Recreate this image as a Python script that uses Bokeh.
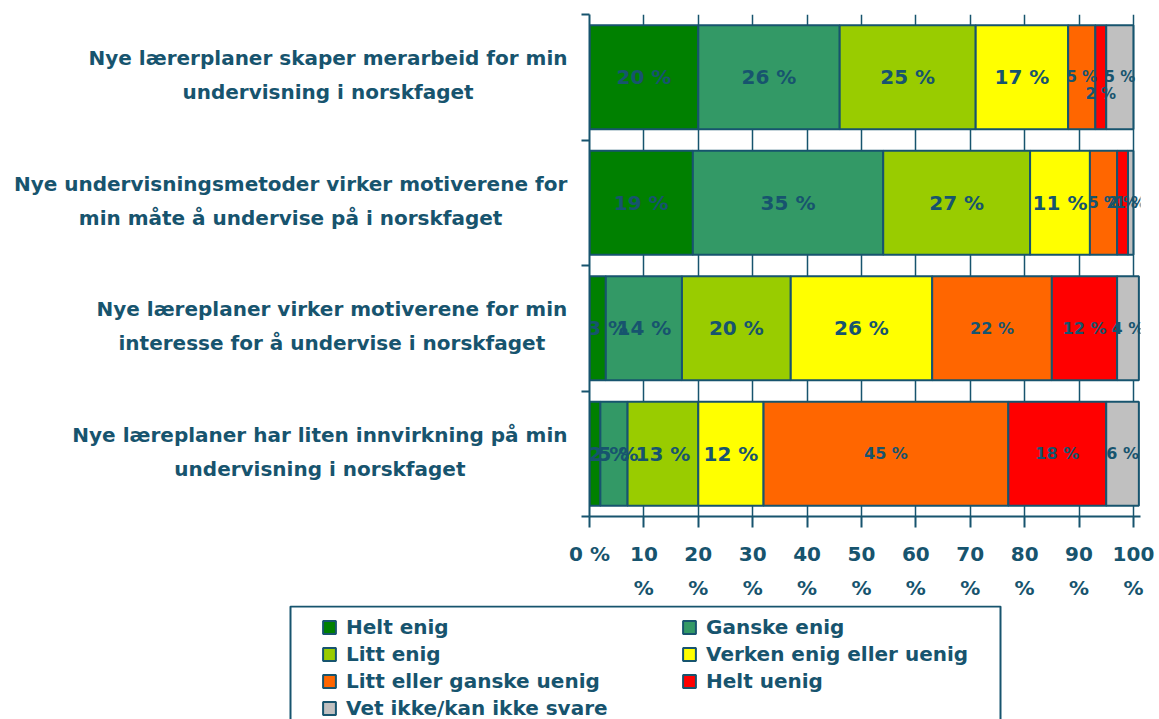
from bokeh.plotting import figure
from bokeh.layouts import column, row
from bokeh.models import (Range1d, FixedTicker, Legend, LegendItem, ColumnDataSource,
                          BoxAnnotation)
from bokeh.core.properties import value
from bokeh.embed import file_html
from bokeh.resources import INLINE

# ---------------- data ----------------
questions = [
    "Nye lærerplaner skaper merarbeid for min\nundervisning i norskfaget",
    "Nye undervisningsmetoder virker motiverene for\nmin måte å undervise på i norskfaget",
    "Nye læreplaner virker motiverene for min\ninteresse for å undervise i norskfaget",
    "Nye læreplaner har liten innvirkning på min\nundervisning i norskfaget",
]
categories = ["Helt enig", "Ganske enig", "Litt enig", "Verken enig eller uenig",
              "Litt eller ganske uenig", "Helt uenig", "Vet ikke/kan ikke svare"]
helt_enig = [20, 19, 3, 2]
ganske_enig = [26, 35, 14, 5]
litt_enig = [25, 27, 20, 13]
verken = [17, 11, 26, 12]
litt_uenig = [5, 5, 22, 45]
helt_uenig = [2, 2, 12, 18]
vet_ikke = [5, 1, 4, 6]
x_ticks = [0, 10, 20, 30, 40, 50, 60, 70, 80, 90, 100]
x_tick_labels = ["0 %", "10\n%", "20\n%", "30\n%", "40\n%", "50\n%",
                 "60\n%", "70\n%", "80\n%", "90\n%", "100\n%"]

# ---------------- style ----------------
colors = ["#008000", "#339966", "#99CC00", "#FFFF00", "#FF6600", "#FF0000", "#C0C0C0"]
TEAL = "#17546E"
FONT = "DejaVu Sans"
label_sizes = [
    ["20px"] * 4 + ["15px"] * 3,
    ["20px"] * 4 + ["15px"] * 3,
    ["20px"] * 4 + ["16px"] * 3,
    ["20px"] * 4 + ["16px"] * 3,
]
label_dy = [[0, 0, 0, 0, 0, 17, 0], [0] * 7, [0] * 7, [0] * 7]
label_dx = [[0] * 7, [0] * 7, [10, 0, 0, 0, 0, 0, 0], [14, 4, 0, 0, 0, 0, 0]]

TOP, FRAME_H, BOTTOM = 14, 502, 89
LABEL_W = 568
MAIN_W = 587
TOTAL_W = LABEL_W + MAIN_W
MAIN_H = TOP + FRAME_H + BOTTOM
LEG_H = 719 - MAIN_H

# approximate DejaVu Sans Bold advance widths (em) to right-align label blocks
ADV = {" ": .348, "a": .675, "b": .716, "c": .593, "d": .716, "e": .678, "f": .435,
       "g": .716, "h": .712, "i": .343, "j": .343, "k": .665, "l": .343, "m": 1.042,
       "n": .712, "o": .687, "p": .716, "r": .493, "s": .595, "t": .478, "u": .712,
       "v": .652, "w": .924, "y": .652, "æ": 1.048, "å": .675, "N": .837}


def text_width(s, px):
    return max(sum(ADV.get(c, .68) for c in line) for line in s.split("\n")) * px


series = [helt_enig, ganske_enig, litt_enig, verken, litt_uenig, helt_uenig, vet_ikke]
n = len(questions)
ys = [n - 0.5 - i for i in range(n)]
y_range = Range1d(0, n)

# ---------------- main chart ----------------
p = figure(width=MAIN_W, height=MAIN_H, output_backend="svg", toolbar_location=None,
           x_range=Range1d(0, 101.3), y_range=y_range,
           min_border_left=21, min_border_right=15, min_border_top=TOP,
           min_border_bottom=BOTTOM)
p.outline_line_color = None
p.xgrid.ticker = FixedTicker(ticks=x_ticks)
p.xgrid.grid_line_color = TEAL
p.xgrid.grid_line_width = 1.5
p.ygrid.ticker = FixedTicker(ticks=[n])
p.ygrid.grid_line_color = TEAL
p.ygrid.grid_line_width = 2

sources = []
left = [0.0] * n
lx, ly, lt, lsz, ldy, ldx = [], [], [], [], [], []
for j, vals in enumerate(series):
    right = [a + b for a, b in zip(left, vals)]
    src = ColumnDataSource(dict(y=ys, left=left, right=right))
    sources.append(src)
    p.hbar(y="y", left="left", right="right", height=0.83, source=src,
           fill_color=colors[j], line_color=TEAL, line_width=2)
    for i in range(n):
        lx.append((left[i] + right[i]) / 2)
        ly.append(ys[i])
        lt.append(f"{vals[i]} %")
        lsz.append(label_sizes[i][j])
        ldy.append(label_dy[i][j])
        ldx.append(label_dx[i][j])
    left = right

lsrc = ColumnDataSource(dict(x=lx, y=ly, text=lt, size=lsz, dy=ldy, dx=ldx))
p.text(x="x", y="y", text="text", source=lsrc, text_font=value(FONT),
       text_font_size="size", text_font_style="bold", y_offset="dy", x_offset="dx",
       text_align="center", text_baseline="middle", text_color=TEAL)

xa = p.xaxis[0]
xa.ticker = FixedTicker(ticks=x_ticks)
xa.major_label_overrides = dict(zip(x_ticks, x_tick_labels))
xa.axis_line_color = TEAL
xa.axis_line_width = 2
xa.major_tick_line_color = TEAL
xa.major_tick_line_width = 2
xa.major_tick_out = 11
xa.major_tick_in = 0
xa.minor_tick_line_color = None
xa.major_label_text_font = FONT
xa.major_label_text_font_style = "bold"
xa.major_label_text_font_size = "20px"
xa.major_label_text_color = TEAL
xa.major_label_text_line_height = 1.42
xa.major_label_standoff = 14

ya = p.yaxis[0]
ya.ticker = FixedTicker(ticks=ys, minor_ticks=list(range(n + 1)))
ya.major_label_overrides = {y: "" for y in ys}
ya.major_label_text_font_size = "0px"
ya.major_label_standoff = 0
ya.axis_line_color = TEAL
ya.axis_line_width = 2
ya.major_tick_line_color = None
ya.minor_tick_line_color = TEAL
ya.minor_tick_line_width = 2
ya.minor_tick_out = 8
ya.minor_tick_in = 0

# ---------------- category labels ----------------
q = figure(width=LABEL_W, height=MAIN_H, output_backend="svg", toolbar_location=None,
           x_range=Range1d(0, LABEL_W), y_range=y_range,
           x_axis_location=None, y_axis_location=None,
           min_border_left=0, min_border_right=0, min_border_top=TOP,
           min_border_bottom=BOTTOM)
q.outline_line_color = None
q.grid.visible = False
qx = [LABEL_W - 1 - text_width(s, 20) / 2 for s in questions]
q.text(x=qx, y=ys, text=questions, text_font=value(FONT), text_font_size="20px",
       text_font_style="bold", text_color=TEAL, text_align="center",
       text_baseline="middle", text_line_height=1.42, y_offset=-2)

# ---------------- legend ----------------
# hidden renderers of the same series provide the legend swatches
lg = figure(width=TOTAL_W, height=LEG_H, output_backend="svg", toolbar_location=None,
            x_range=Range1d(0, TOTAL_W), y_range=Range1d(-LEG_H, 0),
            x_axis_location=None, y_axis_location=None, min_border=0)
lg.outline_line_color = None
lg.grid.visible = False
items = []
for name, col, src in zip(categories, colors, sources):
    r = lg.hbar(y="y", left="left", right="right", height=0.83, source=src,
                fill_color=col, line_color=TEAL, line_width=2, visible=False)
    items.append(LegendItem(label=name, renderers=[r]))
# legend fills column by column: reorder so it reads row by row (2 columns)
order = [0, 2, 4, 6, 1, 3, 5]
legend = Legend(items=[items[k] for k in order], ncols=2, location=(321, -1),
                label_text_font=FONT, label_text_font_style="bold",
                label_text_font_size="20px", label_text_color=TEAL,
                glyph_width=16, glyph_height=16, label_standoff=9,
                label_height=20, label_width=332, spacing=3, padding=0, margin=0,
                border_line_color=None, background_fill_alpha=0,
                inactive_fill_alpha=0)
lg.add_layout(legend, "center")
lg.add_layout(BoxAnnotation(left=290, right=1000, top=-1, bottom=-LEG_H - 10,
                            fill_alpha=0, line_color=TEAL, line_alpha=1, line_width=2))

layout = column(row(q, p), lg)
open("out.html", "w").write(file_html(layout, INLINE))
